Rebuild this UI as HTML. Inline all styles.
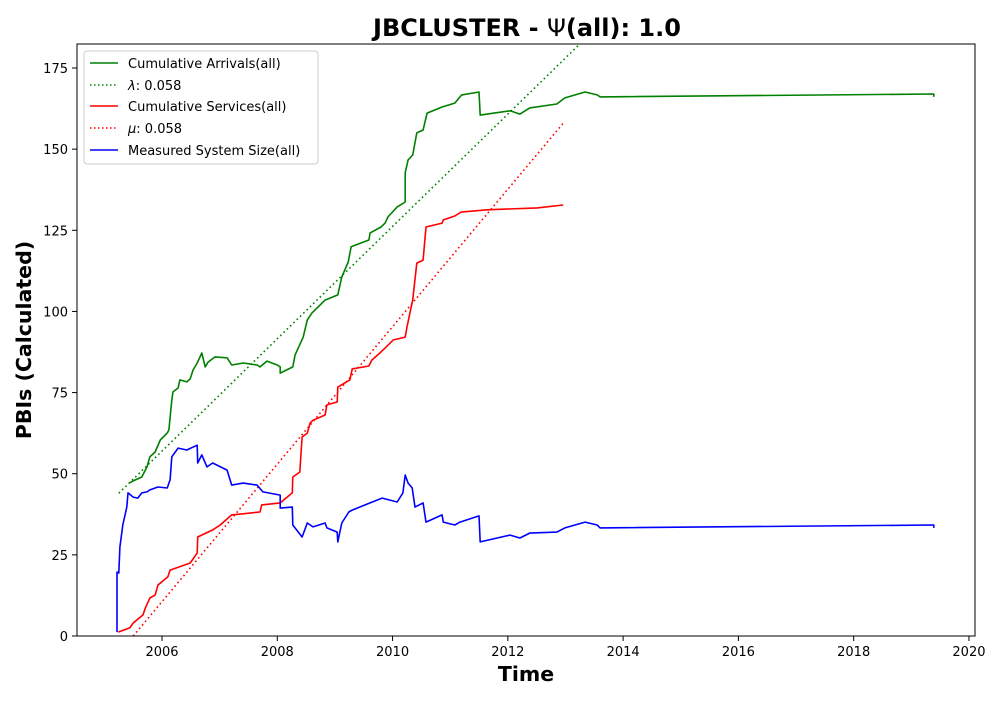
<!DOCTYPE html>
<html><head><meta charset="utf-8"><style>
body{margin:0;background:#fff;width:1000px;height:700px;overflow:hidden}
text{font-family:"DejaVu Sans","Liberation Sans",sans-serif}
</style></head><body>
<svg id="chart" width="1000" height="700" xmlns="http://www.w3.org/2000/svg">
<text x="527" y="36" text-anchor="middle" font-size="24" font-weight="bold">JBCLUSTER -  <tspan font-weight="normal">Ψ</tspan>(all): 1.0</text>
<text x="526" y="681" text-anchor="middle" font-size="20.5" font-weight="bold">Time</text>
<text transform="translate(31,340) rotate(-90)" text-anchor="middle" font-size="20.5" font-weight="bold">PBIs (Calculated)</text>
<defs><clipPath id="clip"><rect x="77" y="44" width="898" height="592"/></clipPath></defs>
<g id="marks" clip-path="url(#clip)"></g>
<g id="axes"></g>
<rect x="77" y="44" width="898" height="592" fill="none" stroke="#000" stroke-width="1"/>
<g>
<rect x="84" y="51" width="234" height="113" rx="3" fill="#fff" fill-opacity="0.8" stroke="#ccc"/>
<g><line x1="90" y1="63" x2="118" y2="63" stroke="green" stroke-width="1.5"/><text x="128" y="68" font-size="13">Cumulative Arrivals(all)</text></g>
<g><line x1="90" y1="85" x2="118" y2="85" stroke="green" stroke-width="1.5" stroke-dasharray="1.5,2.5"/><text x="128" y="90" font-size="13"><tspan font-style="italic">λ</tspan>: 0.058</text></g>
<g><line x1="90" y1="106" x2="118" y2="106" stroke="red" stroke-width="1.5"/><text x="128" y="111" font-size="13">Cumulative Services(all)</text></g>
<g><line x1="90" y1="128" x2="118" y2="128" stroke="red" stroke-width="1.5" stroke-dasharray="1.5,2.5"/><text x="128" y="133" font-size="13"><tspan font-style="italic">μ</tspan>: 0.058</text></g>
<g><line x1="90" y1="150" x2="118" y2="150" stroke="blue" stroke-width="1.5"/><text x="128" y="155" font-size="13">Measured System Size(all)</text></g>
</g>
</svg>
<script>
const xTicks=[2006,2008,2010,2012,2014,2016,2018,2020];
const yTicks=[0,25,50,75,100,125,150,175];
const arrivalsT=[2005.43,2005.50,2005.65,2005.74,2005.79,2005.88,2005.97,2006.09,2006.12,2006.17,2006.19,2006.28,2006.31,2006.43,2006.49,2006.54,2006.61,2006.66,2006.69,2006.75,2006.80,2006.92,2007.13,2007.21,2007.41,2007.65,2007.70,2007.82,2008.00,2008.05,2008.05,2008.27,2008.31,2008.45,2008.52,2008.60,2008.83,2009.05,2009.12,2009.23,2009.28,2009.59,2009.61,2009.80,2009.87,2009.92,2010.08,2010.22,2010.22,2010.27,2010.35,2010.42,2010.53,2010.60,2010.86,2011.08,2011.20,2011.50,2011.52,2012.04,2012.21,2012.38,2012.85,2012.99,2013.34,2013.55,2013.60,2019.39,2019.39];
const arrivalsV=[47.1,47.8,49.0,52.1,55.2,56.7,60.4,62.5,63.5,72.7,75.2,76.4,78.9,78.3,79.2,82.0,84.1,86.0,87.2,82.9,84.4,86.0,85.7,83.5,84.1,83.5,82.9,84.7,83.5,82.9,81.0,82.9,86.6,92.1,97.4,99.5,103.5,105.1,110.6,115.2,119.9,122.0,124.2,126.0,127.2,129.1,132.2,133.7,142.7,146.7,148.2,155.0,155.9,161.1,163.0,164.2,166.7,167.6,160.5,161.8,160.8,162.7,163.9,165.8,167.6,166.7,166.1,167.0,166.1];
const servicesT=[2005.24,2005.44,2005.50,2005.67,2005.71,2005.79,2005.88,2005.93,2006.10,2006.14,2006.49,2006.61,2006.62,2006.88,2007.01,2007.21,2007.70,2007.73,2008.05,2008.26,2008.27,2008.39,2008.43,2008.52,2008.57,2008.62,2008.83,2008.86,2009.04,2009.05,2009.26,2009.30,2009.59,2009.64,2009.78,2009.96,2010.01,2010.22,2010.25,2010.30,2010.35,2010.42,2010.53,2010.58,2010.86,2010.88,2011.08,2011.19,2011.64,2012.51,2012.96];
const servicesV=[1.2,2.5,4.0,6.5,8.6,11.7,12.6,15.7,18.2,20.3,22.5,25.6,30.5,32.7,34.2,37.3,38.2,40.4,41.0,44.1,49.0,50.5,61.3,62.5,65.6,66.5,68.1,71.2,72.1,76.7,78.9,82.3,83.2,85.0,87.2,90.3,91.2,92.1,95.2,99.5,103.5,114.9,115.8,126.0,127.2,128.2,129.4,130.6,131.3,131.9,132.8];
const sizeT=[2005.22,2005.22,2005.25,2005.27,2005.32,2005.39,2005.41,2005.50,2005.58,2005.65,2005.74,2005.79,2005.93,2006.09,2006.14,2006.17,2006.28,2006.43,2006.61,2006.62,2006.69,2006.78,2006.88,2007.13,2007.21,2007.41,2007.65,2007.75,2008.05,2008.05,2008.26,2008.27,2008.43,2008.52,2008.62,2008.83,2008.86,2009.04,2009.05,2009.12,2009.24,2009.30,2009.61,2009.82,2010.08,2010.18,2010.22,2010.27,2010.34,2010.39,2010.53,2010.58,2010.86,2010.88,2011.08,2011.17,2011.50,2011.52,2012.04,2012.21,2012.38,2012.85,2012.99,2013.34,2013.55,2013.60,2019.39,2019.39];
const sizeV=[1.2,19.7,19.4,27.4,34.2,39.7,44.1,42.8,42.5,44.1,44.4,45.0,45.9,45.6,48.1,55.2,57.9,57.3,58.8,53.3,55.8,52.1,53.3,51.1,46.5,47.1,46.5,44.4,43.4,39.4,39.7,34.2,30.5,34.8,33.6,34.8,33.3,32.0,29.0,34.8,38.2,38.8,41.0,42.5,41.3,44.1,49.6,47.1,45.6,39.7,41.0,35.1,37.3,35.1,34.2,35.1,37.0,29.0,31.1,30.2,31.7,32.0,33.3,35.1,34.2,33.3,34.2,33.3];
const lambdaT=[2005.25,2013.6];
const lambdaV=[44,188.5];
const muT=[2005.5,2012.96];
const muV=[0,158];

const NS="http://www.w3.org/2000/svg";
const X=t=>162+(t-2006)*57.64;
const Y=v=>636-v*3.2457;
const marks=document.getElementById('marks'), axes=document.getElementById('axes');
function line(ts,vs,color,dash,name){
  const p=document.createElementNS(NS,'polyline');
  p.setAttribute('points',ts.map((t,i)=>X(t).toFixed(1)+','+Y(vs[i]).toFixed(1)).join(' '));
  p.setAttribute('fill','none');p.setAttribute('stroke',color);p.setAttribute('stroke-width','1.6');
  p.setAttribute('stroke-linejoin','round');
  if(dash)p.setAttribute('stroke-dasharray','1.6,3');
  
  
  marks.appendChild(p);
}
line(lambdaT,lambdaV,'green',true,'lambda-line');
line(muT,muV,'red',true,'mu-line');
line(arrivalsT,arrivalsV,'green',false,'arrivals-line');
line(servicesT,servicesV,'red',false,'services-line');
line(sizeT,sizeV,'blue',false,'system-size-line');
xTicks.forEach(t=>{
  const g=document.createElementNS(NS,'g');
  
  
  g.innerHTML=`<line x1="${X(t)}" y1="636" x2="${X(t)}" y2="641" stroke="#000"/><text x="${X(t)}" y="656" font-size="13" text-anchor="middle">${t}</text>`;
  axes.appendChild(g);
});
yTicks.forEach(v=>{
  const g=document.createElementNS(NS,'g');
  
  
  g.innerHTML=`<line x1="72" y1="${Y(v)}" x2="77" y2="${Y(v)}" stroke="#000"/><text x="68" y="${Y(v)+5}" font-size="13" text-anchor="end">${v}</text>`;
  axes.appendChild(g);
});
</script>
</body></html>
